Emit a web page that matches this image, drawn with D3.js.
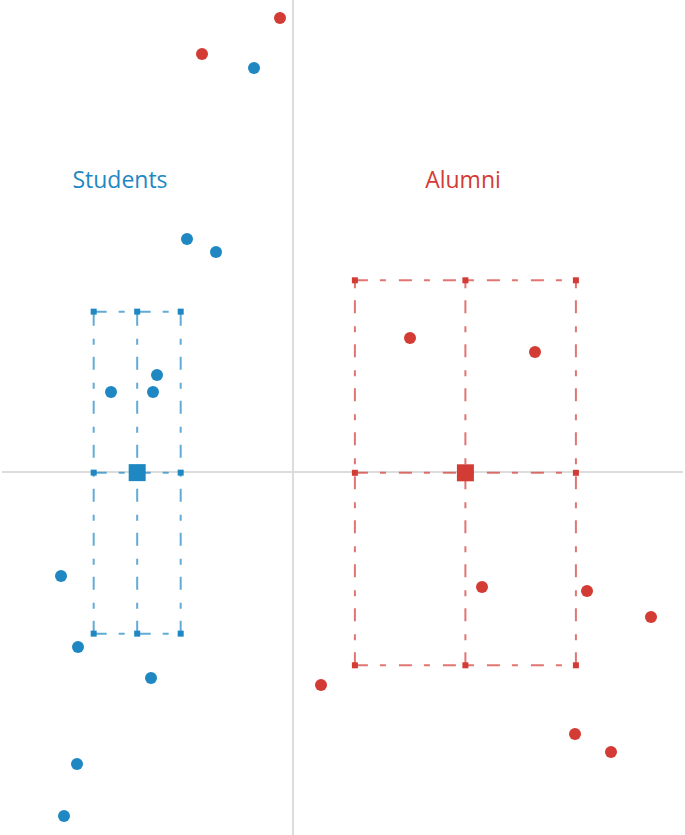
<!DOCTYPE html>
<html><head><meta charset="utf-8">
<script src="https://cdn.jsdelivr.net/npm/d3@7"></script>
<style>html,body{margin:0;padding:0;background:#fff;}svg{display:block;}</style>
</head><body>
<svg id="chart" width="685" height="835"></svg>
<script>
// Data (standardized units)
const groups = ["Students", "Alumni"];
const studentsX = [-0.39, -1.06, -0.77, -1.36, -1.82, -1.40, -2.32, -2.15, -1.42, -2.16, -2.29];
const studentsY = [4.04, 2.33, 2.20, 0.97, 0.80, 0.80, -1.04, -1.75, -2.06, -2.92, -3.44];
const alumniX = [-0.13, -0.91, 1.17, 2.42, 1.89, 2.94, 3.58, 0.28, 2.82, 3.18];
const alumniY = [4.54, 4.18, 1.34, 1.20, -1.15, -1.19, -1.45, -2.13, -2.62, -2.80];
// half-extent of spread box [x, y]
const studentsSpread = [0.435, 1.61];
const alumniSpread = [1.105, 1.925];
const colors = ["#1f88c2", "#d33b35"];

const W = 685, H = 835;
const svg = d3.select("#chart");
const x = d3.scaleLinear().domain([-2.93, 3.92]).range([0, 685]);
const y = d3.scaleLinear().domain([4.72, -3.63]).range([0, 835]);

// axes cross lines
svg.append("line").attr("x1", x(0)).attr("x2", x(0)).attr("y1", 0).attr("y2", H)
  .attr("stroke", "#dcdcdc").attr("stroke-width", 2);
svg.append("line").attr("x1", 2).attr("x2", 683).attr("y1", y(0)).attr("y2", y(0))
  .attr("stroke", "#dcdcdc").attr("stroke-width", 2);

const data = [
  {name: groups[0], xs: studentsX, ys: studentsY, spread: studentsSpread, color: colors[0], labelX: -1.73},
  {name: groups[1], xs: alumniX, ys: alumniY, spread: alumniSpread, color: colors[1], labelX: 1.70}
];

data.forEach(g => {
  const mx = d3.mean(g.xs), my = d3.mean(g.ys);
  const xv = [mx - g.spread[0], mx, mx + g.spread[0]];
  const yv = [my + g.spread[1], my, my - g.spread[1]];
  const grp = svg.append("g");
  const dash = "13,12,6,13";
  // vertical lines (drawn bottom to top)
  xv.forEach(v => {
    grp.append("line").attr("x1", x(v)).attr("x2", x(v)).attr("y1", y(yv[2])).attr("y2", y(yv[0]))
      .attr("stroke", g.color).attr("stroke-opacity", 0.7).attr("stroke-width", 2).attr("stroke-dasharray", dash);
  });
  yv.forEach(v => {
    grp.append("line").attr("x1", x(xv[0])).attr("x2", x(xv[2])).attr("y1", y(v)).attr("y2", y(v))
      .attr("stroke", g.color).attr("stroke-opacity", 0.7).attr("stroke-width", 2).attr("stroke-dasharray", dash);
  });
  // small markers
  const marks = [];
  xv.forEach((a, i) => yv.forEach((b, j) => { if (!(i === 1 && j === 1)) marks.push([a, b]); }));
  grp.selectAll("rect.m").data(marks).join("rect").attr("class", "m")
    .attr("x", d => x(d[0]) - 3).attr("y", d => y(d[1]) - 3).attr("width", 6).attr("height", 6)
    .attr("fill", g.color);
  // mean square
  grp.append("rect").attr("x", x(mx) - 8.5).attr("y", y(my) - 8.5).attr("width", 17).attr("height", 17)
    .attr("fill", g.color);
  // points
  grp.selectAll("circle").data(g.xs.map((v, i) => [v, g.ys[i]])).join("circle")
    .attr("cx", d => x(d[0])).attr("cy", d => y(d[1])).attr("r", 6).attr("fill", g.color);
  // label
  svg.append("text").attr("x", x(g.labelX)).attr("y", 188).attr("text-anchor", "middle")
    .attr("font-family", "'Open Sans', sans-serif").attr("font-size", 23).attr("fill", g.color).text(g.name);
});
</script>
</body></html>
